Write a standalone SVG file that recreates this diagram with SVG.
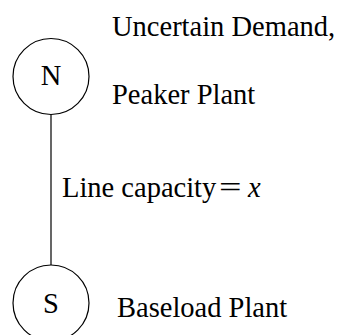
<svg xmlns="http://www.w3.org/2000/svg" width="340" height="335" viewBox="0 0 340 335">
  <style>
    .node circle { fill: #fff; stroke: #000; stroke-width: 1.2; }
    .edge { stroke: #000; stroke-width: 1.2; fill: none; }
    text { font-family: "Liberation Serif", "Times New Roman", serif; font-size: 28.5px; fill: #000; }
    .c { text-anchor: middle; }
  </style>
  <rect width="340" height="335" fill="#fff"/>
  <g id="connectors">
    <line class="edge" x1="51" y1="114.5" x2="51" y2="265"/>
  </g>
  <g id="node-N" class="node">
    <circle cx="51" cy="76.5" r="38"/>
    <text class="c" x="51" y="85">N</text>
  </g>
  <g id="node-S" class="node">
    <circle cx="51" cy="303" r="38"/>
    <text class="c" x="51" y="313">S</text>
  </g>
  <g id="labels">
    <text x="112" y="35.5">Uncertain Demand,</text>
    <text x="112" y="103.5">Peaker Plant</text>
    <text x="62" y="197">Line capacity</text>
    <text x="219" y="197" textLength="22.5" lengthAdjust="spacingAndGlyphs">=</text>
    <text x="248" y="197" font-style="italic">x</text>
    <text x="117" y="317">Baseload Plant</text>
  </g>
</svg>
